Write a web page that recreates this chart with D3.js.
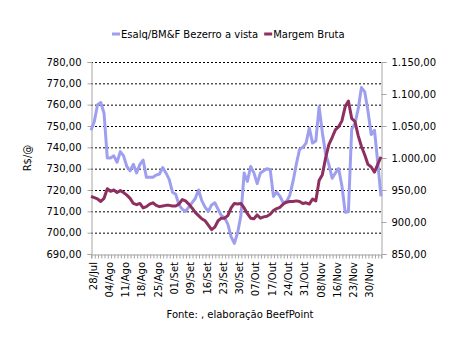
<!DOCTYPE html>
<html>
<head>
<meta charset="utf-8">
<script src="https://cdn.jsdelivr.net/npm/d3@7/dist/d3.min.js"></script>
<style>
  html, body { margin: 0; padding: 0; background: #fff; }
  svg { display: block; font-family: "DejaVu Sans", Verdana, sans-serif; }
</style>
</head>
<body>
<svg id="chart" width="451" height="342"></svg>
<script>
// Daily series, one value per trading day (labelled every 5th day)
const weekLabels = ["28/Jul","04/Ago","11/Ago","18/Ago","25/Ago","01/Set","09/Set","16/Set","23/Set",
  "30/Set","07/Out","17/Out","24/Out","31/Out","08/Nov","16/Nov","23/Nov","30/Nov"];
const labelStep = 5;

// Esalq/BM&F Bezerro a vista (left axis, R$/@)
const bezerro = [748,752,760,761,756,735,735,736,733,738,
  736,731,729,732,728,732,734,726,726,726,
  727,727.5,730.5,728,725,719,718,713,711,710,
  712,714,716,720,715,712,710,713,714,711,
  708,707,704,698,695,700,708,728,724,731,
  728,723,728,729,730,729.5,717,719,717,714,
  714.5,717.5,724,732,739,740,742,749,742,743,
  759,747,737,732,725.5,728,730,722,709.6,709.8,
  748.5,751,758,768,766,757,746,748,733,717];

// Margem Bruta (right axis)
const margem = [940,938,936,932,937,952,948,950,946,949,
  946,942,937,929,927,929,922,924,928,930,
  926,924,925,926,926,925,925,928,935,933,
  928,922,915,910,905,902,895,888,892,902,
  906,906,910,922,929,928,929,922,913,906,
  905,911,906,908,909,912,918,921,923,928,
  931,932,932,933,932,929,930,928,936,933,
  965,974,1000,1021,1032,1044,1049,1058,1080,1089,
  1062,1057,1035,1018,1005,990,986,978,990,1002];

const leftTicks = [690,700,710,720,730,740,750,760,770,780];
const rightTicks = [850,900,950,1000,1050,1100,1150];

const seriesNames = ["Esalq/BM&F Bezerro a vista", "Margem Bruta"];
const seriesColors = ["#9f9ff0", "#8e2f5f"];

const svg = d3.select("#chart");
const plot = { left: 91, right: 381, top: 62, bottom: 254 };
const axisGrey = "#a6a6a6";
const fmt = v => {
  const s = d3.format(",.2f")(v);
  return s.replace(/,/g, "#").replace(".", ",").replace(/#/g, ".");
};

const x = d3.scalePoint().domain(d3.range(bezerro.length)).range([plot.left, plot.right]);
const yL = d3.scaleLinear().domain([690, 780]).range([plot.bottom, plot.top]);
const yR = d3.scaleLinear().domain([850, 1150]).range([plot.bottom, plot.top]);

// Dotted gridlines on the left-axis ticks
svg.append("g").selectAll("line")
  .data(leftTicks.filter(t => t > 690))
  .join("line")
  .attr("x1", plot.left).attr("x2", plot.right)
  .attr("y1", d => yL(d) + 0.5).attr("y2", d => yL(d) + 0.5)
  .attr("stroke", "#000").attr("stroke-width", 1)
  .attr("stroke-dasharray", "2,2");

// Left axis
const gL = svg.append("g").attr("transform", `translate(${plot.left + 0.5},0)`)
  .call(d3.axisLeft(yL).tickValues(leftTicks).tickFormat(fmt).tickSize(4).tickPadding(6));
// Right axis
const gR = svg.append("g").attr("transform", `translate(${plot.right + 0.5},0)`)
  .call(d3.axisRight(yR).tickValues(rightTicks).tickFormat(fmt).tickSize(5).tickPadding(5));
// Bottom axis: a tick at every trading day, labels every 5th day
const gB = svg.append("g").attr("transform", `translate(0,${plot.bottom + 0.5})`)
  .call(d3.axisBottom(x).tickSize(4).tickFormat(""));

[gL, gR, gB].forEach(g => {
  g.select(".domain").attr("stroke", axisGrey);
  g.selectAll(".tick line").attr("stroke", axisGrey);
  g.selectAll("text").attr("fill", "#000").style("font-size", "10px")
    .style("font-family", "'DejaVu Sans', Verdana, sans-serif");
});
gB.selectAll(".tick line").attr("transform", "translate(0.5,0)");

svg.append("g").selectAll("text")
  .data(weekLabels)
  .join("text")
  .attr("transform", (d, i) => `translate(${x(i * labelStep) + 2},${plot.bottom + 8}) rotate(-90)`)
  .attr("text-anchor", "end")
  .attr("dominant-baseline", "central")
  .style("font-size", "10px")
  .text(d => d);

// Series lines
const lineL = d3.line().x((d, i) => x(i)).y(d => yL(d));
const lineR = d3.line().x((d, i) => x(i)).y(d => yR(d));
svg.append("path").datum(bezerro).attr("d", lineL)
  .attr("fill", "none").attr("stroke", seriesColors[0]).attr("stroke-width", 3)
  .attr("stroke-linejoin", "round");
svg.append("path").datum(margem).attr("d", lineR)
  .attr("fill", "none").attr("stroke", seriesColors[1]).attr("stroke-width", 3)
  .attr("stroke-linejoin", "round");

// Y axis title
svg.append("text")
  .attr("transform", "translate(31,158) rotate(-90)")
  .attr("text-anchor", "middle")
  .style("font-size", "10px")
  .text("R$/@");

// Legend
const legend = svg.append("g").attr("transform", "translate(112,34)");
let lx = 0;
seriesNames.forEach((name, i) => {
  const item = legend.append("g").attr("transform", `translate(${lx},0)`);
  item.append("line").attr("x1", 0).attr("x2", 8).attr("y1", 0).attr("y2", 0)
    .attr("stroke", seriesColors[i]).attr("stroke-width", 3);
  const t = item.append("text").attr("x", 9).attr("y", 0)
    .attr("dominant-baseline", "central").style("font-size", "10px").text(name);
  lx += 9 + t.node().getComputedTextLength() + 6;
});

// Source note
svg.append("text")
  .attr("x", 240).attr("y", 318)
  .attr("text-anchor", "middle")
  .style("font-size", "10px")
  .text("Fonte: , elaboração BeefPoint");
</script>
</body>
</html>
